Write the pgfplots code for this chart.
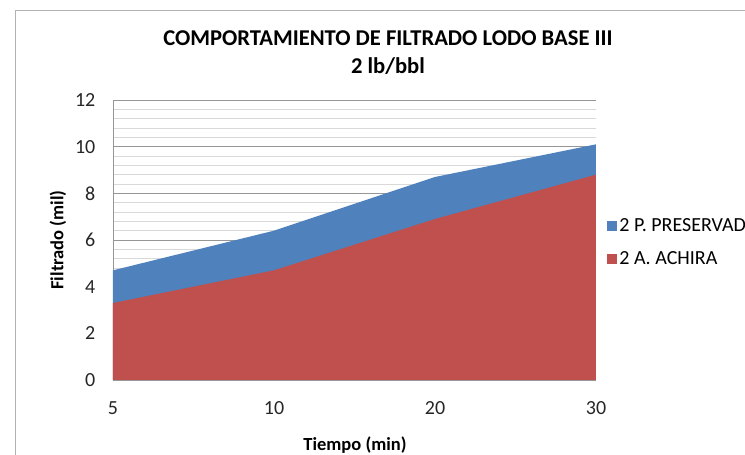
\documentclass[border=0pt]{standalone}
\usepackage{pgfplots}
\pgfplotsset{compat=1.18}
\usepackage{fontspec}
\setmainfont{Carlito}
\definecolor{exblue}{HTML}{4F81BD}
\definecolor{exred}{HTML}{C0504D}
\definecolor{majgrid}{HTML}{969696}
\definecolor{mingrid}{HTML}{D9D9D9}
\begin{document}
\begin{tikzpicture}[x=1pt,y=1pt]
\useasboundingbox (0,0) rectangle (745,455);
\draw[gray!60, line width=0.8pt] (15,-20) -- (15,445) -- (760,445);
\node[font=\fontsize{22.6}{26}\selectfont\bfseries] at (388,417) {COMPORTAMIENTO DE FILTRADO LODO BASE III};
\node[font=\fontsize{22.6}{26}\selectfont\bfseries] at (388,389) {2 lb/bbl};
\begin{axis}[
  at={(113pt,75pt)}, anchor=south west,
  scale only axis, width=483pt, height=280pt,
  xmin=0, xmax=3, ymin=0, ymax=12,
  xtick={0,1,2,3}, xticklabels={5,10,20,30},
  ytick={0,2,...,12},
  minor ytick={0.4,0.8,...,11.7},
  ymajorgrids, yminorgrids,
  major grid style={majgrid, line width=0.8pt},
  minor grid style={mingrid, line width=0.8pt},
  axis x line=bottom, axis y line=left,
  axis line style={majgrid, line width=0.8pt, -},
  tick style={draw=none},
  /pgf/number format/assume math mode=true,
  tick label style={font=\fontsize{20}{22}\selectfont, text=black!85},
  xticklabel style={yshift=-16pt},
  yticklabel style={xshift=-12pt},
  xlabel={Tiempo (min)}, ylabel={Filtrado (mil)},
  label style={font=\fontsize{18.5}{20}\selectfont\bfseries},
  xlabel style={at={(axis description cs:0.501,-0.232)}, anchor=center},
  ylabel style={at={(axis description cs:-0.114,0.5)}, anchor=center},
  legend style={at={(1.017,0.491)}, anchor=west, draw=none, fill=none,
    font=\fontsize{20}{22}\selectfont, row sep=15pt,
    legend cell align=left},
  legend image code/.code={\fill[#1] (0pt,-5pt) rectangle (10pt,5pt);},
  clip=false,
]
\addplot[fill=exblue, draw=none] coordinates {(0,4.7) (1,6.4) (2,8.7) (3,10.1)} \closedcycle;
\addlegendentry{2 P. PRESERVADO}
\addplot[fill=exred, draw=none] coordinates {(0,3.3) (1,4.7) (2,6.9) (3,8.8)} \closedcycle;
\addlegendentry{2 A. ACHIRA}
\end{axis}
\end{tikzpicture}
\end{document}
